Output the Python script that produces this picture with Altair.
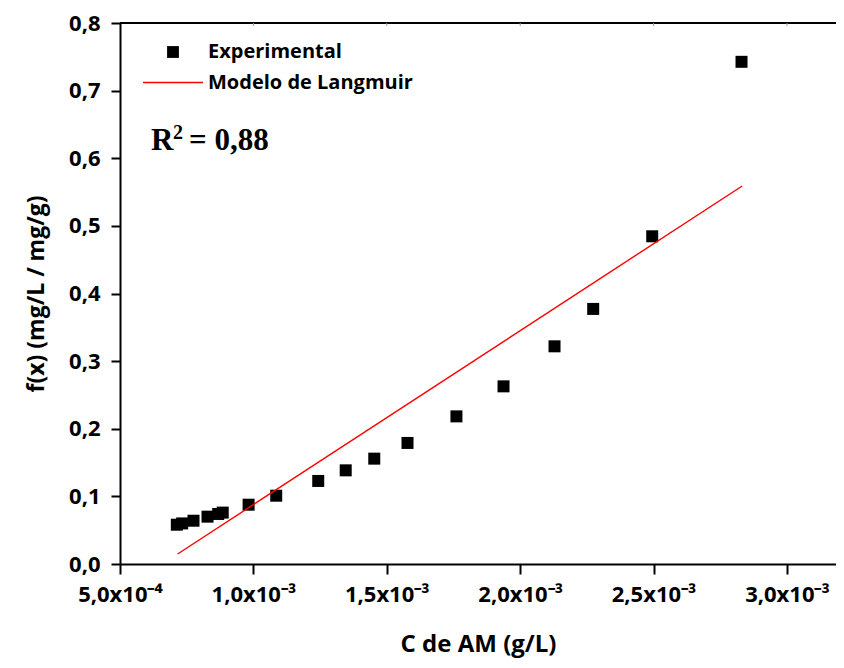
import altair as alt
import pandas as pd

# ---- data ----
exp_x = [0.713e-3, 0.733e-3, 0.7755e-3, 0.828e-3, 0.868e-3, 0.885e-3, 0.982e-3,
         1.0855e-3, 1.243e-3, 1.346e-3, 1.453e-3, 1.5776e-3, 1.761e-3, 1.9375e-3,
         2.1286e-3, 2.2736e-3, 2.4948e-3, 2.8295e-3]
exp_y = [0.0581, 0.060, 0.064, 0.070, 0.074, 0.076, 0.0877,
         0.101, 0.1228, 0.1385, 0.1558, 0.179, 0.2183, 0.2627,
         0.3219, 0.3772, 0.4846, 0.7426]
fit_x = [0.716e-3, 2.832e-3]
fit_y = [0.0148, 0.559]
x_ticks = [0.0005, 0.001, 0.0015, 0.002, 0.0025, 0.003]
y_ticks = [0.0, 0.1, 0.2, 0.3, 0.4, 0.5, 0.6, 0.7, 0.8]
legend_labels = ["Experimental", "Modelo de Langmuir"]
r2_parts = ["R", "2", "= 0,88"]
x_title = "C de AM (g/L)"
y_title = "f(x) (mg/L / mg/g)"

W, H = 716, 541
px_per_unit = 266.8 / 0.001
x_max = 0.0005 + W / px_per_unit

exp_df = pd.DataFrame({"x": exp_x, "y": exp_y})
fit_df = pd.DataFrame({"x": fit_x, "y": fit_y})
top_ticks_df = pd.DataFrame({"x": x_ticks[1:]})

FONT = "Open Sans"

xscale = alt.Scale(domain=[0.0005, x_max], nice=False, zero=False)
yscale = alt.Scale(domain=[0, 0.8], nice=False, zero=False)

x_label_expr = ("datum.value < 0.00099 ? replace(format(datum.value*10000, '.1f'), '.', ',') + 'x10⁻⁴' "
                ": replace(format(datum.value*1000, '.1f'), '.', ',') + 'x10⁻³'")

xaxis = alt.Axis(values=x_ticks, labelExpr=x_label_expr, title=x_title, grid=False,
                 tickSize=10, labelPadding=10, titlePadding=27, labelFlush=False,
                 labelOverlap=False, titleFontSize=24)
yaxis = alt.Axis(values=y_ticks, labelExpr="replace(format(datum.value, '.1f'), '.', ',')",
                 title=y_title, grid=False, tickSize=9, labelPadding=11, titlePadding=20,
                 labelFlush=False, labelOverlap=False, titleFontSize=23)

points = alt.Chart(exp_df).mark_point(shape="square", filled=True, size=144,
                                      color="black", opacity=1).encode(
    x=alt.X("x:Q", scale=xscale, axis=xaxis),
    y=alt.Y("y:Q", scale=yscale, axis=yaxis),
)

fit = alt.Chart(fit_df).mark_line(color="#ff0000", strokeWidth=1.4).encode(
    x=alt.X("x:Q", scale=xscale),
    y=alt.Y("y:Q", scale=yscale),
)

top_line = alt.Chart(pd.DataFrame({"a": [0]})).mark_rule(color="black", strokeWidth=2).encode(
    x=alt.value(0), x2=alt.value(W), y=alt.value(0)
)
top_ticks = alt.Chart(top_ticks_df).mark_rule(color="#999999", strokeWidth=1).encode(
    x=alt.X("x:Q", scale=xscale), y=alt.value(0), y2=alt.value(3)
)

leg_sq = alt.Chart(pd.DataFrame({"a": [0]})).mark_point(shape="square", filled=True, size=140,
                                                         color="black", opacity=1).encode(
    x=alt.value(53), y=alt.value(29)
)
leg_line = alt.Chart(pd.DataFrame({"a": [0]})).mark_rule(color="#ff0000", strokeWidth=1.4).encode(
    x=alt.value(23), x2=alt.value(83), y=alt.value(59.5)
)
leg_t1 = alt.Chart(pd.DataFrame({"t": [legend_labels[0]]})).mark_text(
    font=FONT, fontWeight="bold", fontSize=20, align="left", baseline="middle", color="black"
).encode(x=alt.value(88), y=alt.value(29), text="t:N")
leg_t2 = alt.Chart(pd.DataFrame({"t": [legend_labels[1]]})).mark_text(
    font=FONT, fontWeight="bold", fontSize=20, align="left", baseline="middle", color="black"
).encode(x=alt.value(88), y=alt.value(60), text="t:N")

r2_R = alt.Chart(pd.DataFrame({"t": [r2_parts[0]]})).mark_text(
    font="Liberation Serif", fontWeight="bold", fontSize=31, align="left",
    baseline="alphabetic", color="black"
).encode(x=alt.value(31), y=alt.value(127), text="t:N")
r2_sup = alt.Chart(pd.DataFrame({"t": [r2_parts[1]]})).mark_text(
    font="Liberation Serif", fontWeight="bold", fontSize=20, align="left",
    baseline="alphabetic", color="black"
).encode(x=alt.value(53), y=alt.value(116), text="t:N")
r2_rest = alt.Chart(pd.DataFrame({"t": [r2_parts[2]]})).mark_text(
    font="Liberation Serif", fontWeight="bold", fontSize=31, align="left",
    baseline="alphabetic", color="black"
).encode(x=alt.value(69), y=alt.value(127), text="t:N")

chart = alt.layer(points, fit, top_line, top_ticks, leg_sq, leg_line, leg_t1, leg_t2,
                  r2_R, r2_sup, r2_rest).properties(
    width=W, height=H,
    padding={"left": 112, "top": 15, "right": 0, "bottom": 96},
    autosize=alt.AutoSizeParams(type="none"),
    background="white",
).configure_view(stroke=None).configure_axis(
    domainColor="black", domainWidth=2, tickColor="black", tickWidth=2,
    labelFont=FONT, labelFontWeight="bold", labelFontSize=22, labelColor="black",
    titleFont=FONT, titleFontWeight="bold", titleColor="black",
)

chart.save("out.html", embed_options={"renderer": "svg", "actions": False})
